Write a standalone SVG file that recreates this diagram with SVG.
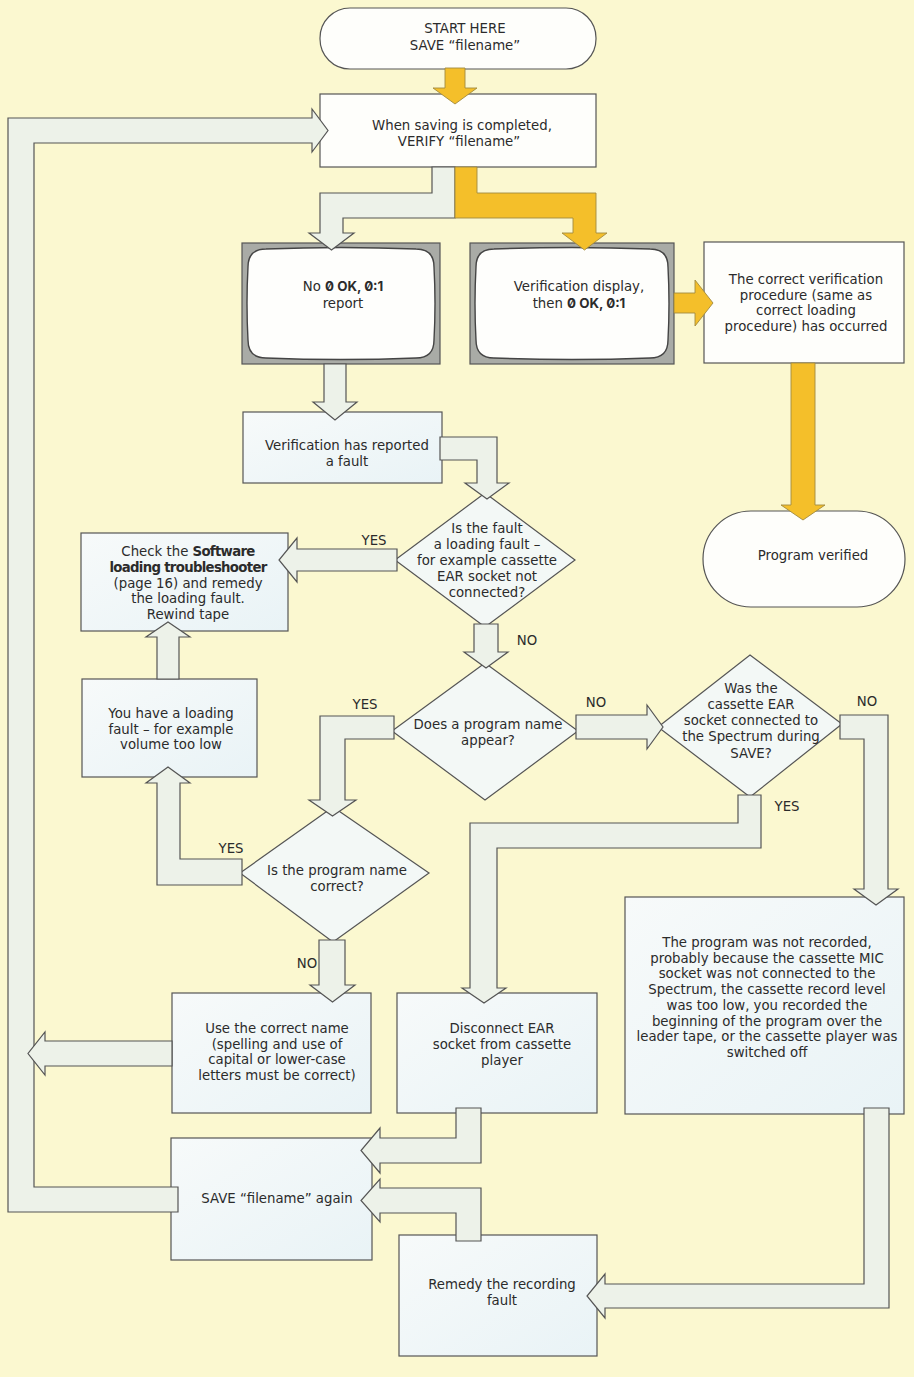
<svg xmlns="http://www.w3.org/2000/svg" width="914" height="1377" viewBox="0 0 914 1377">
<style>
  text { font-family: "DejaVu Sans", "Liberation Sans", sans-serif; font-size: 13.3px; fill: #2b2b2b; text-anchor: middle; }
  .lbl { font-size: 13.3px; }
  .b { font-weight: 700; letter-spacing: -0.7px; }
  .mono { font-family: Inter, "DejaVu Sans", sans-serif; font-weight: 700; font-variant-numeric: slashed-zero; font-feature-settings: "zero" 1; }
  .box { fill: #fefefb; stroke: #555; stroke-width: 1.2; }
  .box2 { fill: url(#bluefill); stroke: #555; stroke-width: 1.2; }
  .dia { fill: #f3f8f6; stroke: #555; stroke-width: 1.2; }
  .tvf { fill: #a9aba6; stroke: #555; stroke-width: 1.2; }
  .scr { fill: #fefefc; stroke: #444; stroke-width: 1.4; }
  .pale { fill: #edf2e9; stroke: #555; stroke-width: 1.2; stroke-linejoin: miter; }
  .yel { fill: #f4bf2a; stroke: #a08a40; stroke-width: 0.9; }
</style>
<defs>
  <linearGradient id="bluefill" x1="0" y1="0" x2="1" y2="1">
    <stop offset="0" stop-color="#f7fafa"/>
    <stop offset="1" stop-color="#e9f3f6"/>
  </linearGradient>
</defs>
<rect x="0" y="0" width="914" height="1377" fill="#fbf8d0"/>

<g id="start">
  <rect class="box" x="320" y="8" width="276" height="61" rx="30"/>
  <text x="465" y="33">START HERE<tspan x="465" dy="17">SAVE “filename”</tspan></text>
</g>
<g id="verify">
  <rect class="box" x="320" y="94" width="276" height="73"/>
  <text x="462" y="130">When saving is completed,<tspan x="459" dy="16">VERIFY “filename”</tspan></text>
</g>
<g id="tv-no-report">
  <rect class="tvf" x="242" y="243" width="198" height="121"/>
  <path class="scr" d="M266,249 Q341,246 416,249 Q434,249 434,267 Q436,303 434,340 Q434,358 416,358 Q341,361 266,358 Q248,358 248,340 Q246,303 248,267 Q248,249 266,249 Z"/>
  <text x="343" y="291">No <tspan class="mono">0 OK, 0:1</tspan><tspan x="343" dy="16.5">report</tspan></text>
</g>
<g id="tv-verification">
  <rect class="tvf" x="470" y="243" width="204" height="121"/>
  <path class="scr" d="M494,249 Q572,246 650,249 Q668,249 668,267 Q670,303 668,340 Q668,358 650,358 Q572,361 494,358 Q476,358 476,340 Q474,303 476,267 Q476,249 494,249 Z"/>
  <text x="579" y="291">Verification display,<tspan x="579" dy="16.5">then </tspan><tspan class="mono">0 OK, 0:1</tspan></text>
</g>
<g id="correct">
  <rect class="box" x="704" y="242" width="200" height="121"/>
  <text x="806" y="284">The correct verification<tspan x="806" dy="15.7">procedure (same as</tspan><tspan x="806" dy="15.7">correct loading</tspan><tspan x="806" dy="15.7">procedure) has occurred</tspan></text>
</g>
<g id="verified">
  <rect class="box" x="703" y="511" width="202" height="96" rx="48"/>
  <text x="813" y="560">Program verified</text>
</g>
<g id="fault">
  <rect class="box2" x="243" y="412" width="199" height="71"/>
  <text x="347" y="450">Verification has reported<tspan x="347" dy="15.7">a fault</tspan></text>
</g>
<g id="q-loading">
  <polygon class="dia" points="485,493 575,560 485,627 395,560"/>
  <text x="487" y="533">Is the fault<tspan x="487" dy="16">a loading fault –</tspan><tspan x="487" dy="16">for example cassette</tspan><tspan x="487" dy="16">EAR socket not</tspan><tspan x="487" dy="16">connected?</tspan></text>
</g>
<g id="check">
  <rect class="box2" x="81" y="533" width="207" height="98"/>
  <text x="188" y="556">Check the <tspan class="b">Software</tspan><tspan x="188" dy="15.8" class="b">loading troubleshooter</tspan><tspan x="188" dy="15.8">(page 16) and remedy</tspan><tspan x="188" dy="15.8">the loading fault.</tspan><tspan x="188" dy="15.8">Rewind tape</tspan></text>
</g>
<g id="loading">
  <rect class="box2" x="82" y="679" width="175" height="98"/>
  <text x="171" y="718">You have a loading<tspan x="171" dy="15.7">fault – for example</tspan><tspan x="171" dy="15.7">volume too low</tspan></text>
</g>
<g id="q-name">
  <polygon class="dia" points="485,663 578,731 485,800 392,731"/>
  <text x="488" y="729">Does a program name<tspan x="488" dy="16">appear?</tspan></text>
</g>
<g id="q-ear">
  <polygon class="dia" points="750,655 842,724 750,797 658,727"/>
  <text x="751" y="693">Was the<tspan x="751" dy="16">cassette EAR</tspan><tspan x="751" dy="16">socket connected to</tspan><tspan x="751" dy="16">the Spectrum during</tspan><tspan x="751" dy="16.5">SAVE?</tspan></text>
</g>
<g id="q-correct">
  <polygon class="dia" points="333,807 429,873 333,942 240,873"/>
  <text x="337" y="875">Is the program name<tspan x="337" dy="15.7">correct?</tspan></text>
</g>
<g id="use">
  <rect class="box2" x="172" y="993" width="199" height="120"/>
  <text x="277" y="1033">Use the correct name<tspan x="277" dy="15.7">(spelling and use of</tspan><tspan x="277" dy="15.7">capital or lower-case</tspan><tspan x="277" dy="15.7">letters must be correct)</tspan></text>
</g>
<g id="disconnect">
  <rect class="box2" x="397" y="993" width="200" height="120"/>
  <text x="502" y="1033">Disconnect EAR<tspan x="502" dy="16">socket from cassette</tspan><tspan x="502" dy="16">player</tspan></text>
</g>
<g id="mic">
  <rect class="box2" x="625" y="897" width="279" height="217"/>
  <text x="767" y="947">The program was not recorded,<tspan x="767" dy="15.7">probably because the cassette MIC</tspan><tspan x="767" dy="15.7">socket was not connected to the</tspan><tspan x="767" dy="15.7">Spectrum, the cassette record level</tspan><tspan x="767" dy="15.7">was too low, you recorded the</tspan><tspan x="767" dy="15.7">beginning of the program over the</tspan><tspan x="767" dy="15.7">leader tape, or the cassette player was</tspan><tspan x="767" dy="15.7">switched off</tspan></text>
</g>
<g id="save-again">
  <rect class="box2" x="171" y="1138" width="201" height="122"/>
  <text x="277" y="1203">SAVE “filename” again</text>
</g>
<g id="remedy">
  <rect class="box2" x="399" y="1235" width="198" height="121"/>
  <text x="502" y="1289">Remedy the recording<tspan x="502" dy="16">fault</tspan></text>
</g>

<g id="connectors">
  <polygon class="yel" points="445,68 465,68 465,88 477,88 455,104 433,88 445,88"/>
  <polygon class="pale" points="432,167 455,167 455,218 343,218 343,233 354,233 331.5,250 309,233 320,233 320,193 432,193"/>
  <polygon class="yel" points="455,167 477,167 477,193 596,193 596,233 607,233 584.5,250 562,233 573,233 573,218 455,218"/>
  <polygon class="yel" points="674,293 695,293 695,280 713,303 695,326 695,313 674,313"/>
  <polygon class="yel" points="791,363 815,363 815,505 825,505 803,520 781,505 791,505"/>
  <polygon class="pale" points="324,364 346,364 346,402 357,402 335,420 313,402 324,402"/>
  <polygon class="pale" points="440,437 497,437 497,483 509,483 487,499 465,483 477,483 477,460 440,460"/>
  <polygon class="pale" points="397,549 297,549 297,538 279,560 297,582 297,571 397,571"/>
  <polygon class="pale" points="474,624 498,624 498,652 508,652 486,668 464,652 474,652"/>
  <polygon class="pale" points="394,716 320,716 320,800 309,800 332.5,816 356,800 345,800 345,739 394,739"/>
  <polygon class="pale" points="576,715 647,715 647,705 663,727 647,749 647,739 576,739"/>
  <polygon class="pale" points="840,715 888,715 888,889 898,889 876,905 854,889 864,889 864,739 840,739"/>
  <polygon class="pale" points="738,795 761,795 761,848 497,848 497,988 506,988 484,1003 462,988 470,988 470,823 738,823"/>
  <polygon class="pale" points="242,859 180,859 180,783 190,783 168,767 146,783 157,783 157,885 242,885"/>
  <polygon class="pale" points="157,679 179,679 179,637 190,637 168,622 146,637 157,637"/>
  <polygon class="pale" points="319,940 345,940 345,985 355,985 332.5,1002 310,985 319,985"/>
  <polygon class="pale" points="8,118 312,118 312,109 328,130.5 312,152 312,143 34,143 34,1187 178,1187 178,1212 8,1212"/>
  <polygon class="pale" points="172,1041 45,1041 45,1032 28,1053.5 45,1075 45,1066 172,1066"/>
  <polygon class="pale" points="456,1108 481,1108 481,1163 380,1163 380,1173 361,1150.5 380,1128 380,1138 456,1138"/>
  <polygon class="pale" points="380,1188 481,1188 481,1241 456,1241 456,1213 380,1213 380,1222 361,1200.5 380,1179"/>
  <polygon class="pale" points="864,1108 889,1108 889,1308 605,1308 605,1318 587,1296 605,1274 605,1284 864,1284"/>
</g>

<g id="labels">
  <text class="lbl" x="374" y="545">YES</text>
  <text class="lbl" x="527" y="645">NO</text>
  <text class="lbl" x="365" y="709">YES</text>
  <text class="lbl" x="596" y="707">NO</text>
  <text class="lbl" x="867" y="706">NO</text>
  <text class="lbl" x="787" y="811">YES</text>
  <text class="lbl" x="231" y="853">YES</text>
  <text class="lbl" x="307" y="968">NO</text>
</g>
</svg>
